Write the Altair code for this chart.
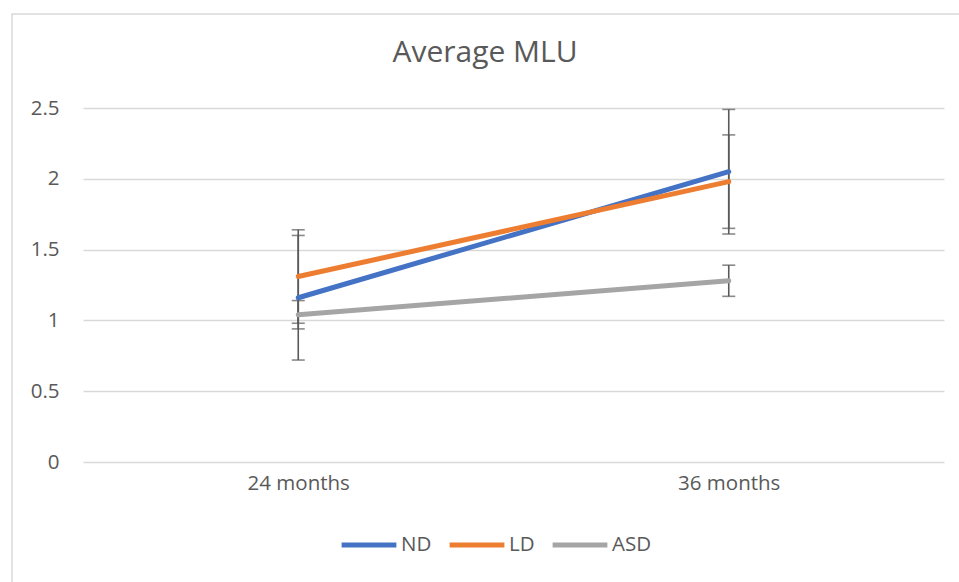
import altair as alt
import pandas as pd

categories = ["24 months", "36 months"]
series = ["ND", "LD", "ASD"]
nd_values = [1.16, 2.05]
ld_values = [1.31, 1.98]
asd_values = [1.04, 1.28]
nd_errors = [0.44, 0.44]
ld_errors = [0.33, 0.33]
asd_errors = [0.10, 0.11]
colors = ["#4472C4", "#ED7D31", "#A5A5A5"]
title_text = ["Average MLU"]

rows = []
for name, vals, errs in [("ND", nd_values, nd_errors), ("LD", ld_values, ld_errors), ("ASD", asd_values, asd_errors)]:
    for c, v, e in zip(categories, vals, errs):
        rows.append({"category": c, "series": name, "value": v, "err": e})
df = pd.DataFrame(rows)

FONT = "Open Sans"
GRAY = "#595959"
FS = 20.5

base = alt.Chart(df).transform_calculate(
    lo="datum.value - datum.err", hi="datum.value + datum.err"
)

x_enc = alt.X("category:N", sort=categories, title=None,
              scale=alt.Scale(type="point", padding=0.5),
              axis=alt.Axis(labelAngle=0, labelAlign="center", domain=False, ticks=False, grid=False,
                            labelPadding=21, labelFontSize=FS, labelColor=GRAY, labelFont=FONT))
y_enc_axis = alt.Y("value:Q", title=None,
                   scale=alt.Scale(domain=[0, 2.5], nice=False, zero=True),
                   axis=alt.Axis(values=[0, 0.5, 1, 1.5, 2, 2.5], format="~g", domain=False, ticks=False,
                                 gridColor="#d9d9d9", gridWidth=1.3, labelPadding=24,
                                 labelFontSize=FS, labelColor=GRAY, labelFont=FONT))

lines = base.mark_line(strokeWidth=5, strokeCap="round").encode(
    x=x_enc,
    y=y_enc_axis,
    color=alt.Color("series:N", sort=series,
                    scale=alt.Scale(domain=series, range=colors),
                    legend=alt.Legend(title=None, orient="none", direction="horizontal",
                                      legendX=256, legendY=407, symbolType="stroke",
                                      symbolSize=3000, symbolStrokeWidth=5,
                                      labelFontSize=FS, labelColor=GRAY, labelFont=FONT,
                                      labelOffset=2, columnPadding=7, padding=0,
                                      gridAlign="none")),
)

err_rule = base.mark_rule(color=GRAY, strokeWidth=1.6).encode(
    x=alt.X("category:N", sort=categories),
    y=alt.Y("lo:Q"),
    y2="hi:Q",
)
cap_lo = base.mark_tick(color=GRAY, thickness=1.6, size=13, orient="horizontal").encode(
    x=alt.X("category:N", sort=categories), y=alt.Y("lo:Q"))
cap_hi = base.mark_tick(color=GRAY, thickness=1.6, size=13, orient="horizontal").encode(
    x=alt.X("category:N", sort=categories), y=alt.Y("hi:Q"))

border = alt.Chart(pd.DataFrame({"a": [0]})).mark_rect(
    fill=None, stroke="#d9d9d9", strokeWidth=1.5, clip=False
).encode(x=alt.value(-71), x2=alt.value(900), y=alt.value(-94), y2=alt.value(500))

title = alt.Chart(pd.DataFrame({"t": title_text})).mark_text(
    font=FONT, fontSize=30, color=GRAY, align="center", baseline="alphabetic"
).encode(text="t:N", x=alt.value(402), y=alt.value(-46))

chart = alt.layer(border, err_rule, cap_lo, cap_hi, lines, title).properties(
    width=861, height=354,
    autosize=alt.AutoSizeParams(type="none"),
    padding={"left": 83, "top": 108, "right": 15, "bottom": 120},
).configure(background="white").configure_view(stroke=None)

chart.save("out.html", embed_options={"renderer": "svg", "actions": False})
